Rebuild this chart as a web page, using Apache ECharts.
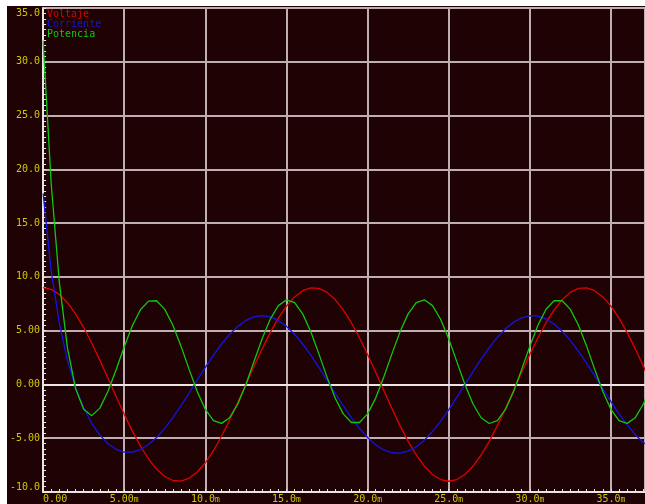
<!DOCTYPE html>
<html>
<head>
<meta charset="utf-8">
<script src="https://cdn.jsdelivr.net/npm/echarts/dist/echarts.min.js"></script>
<style>
  html, body { margin: 0; padding: 0; background: #ffffff; overflow: hidden; }
  #chart { position: absolute; left: 7px; top: 6px; width: 638px; height: 498px; background: #1e0204; }
</style>
</head>
<body>
<div id="chart"></div>
<script>
// tiempo en ms, paso 0.5 ms
const tiempo = [
  0, 0.5, 1, 1.5, 2, 2.5, 3, 3.5, 4, 4.5, 5, 5.5, 6, 6.5, 7, 7.5, 8, 8.5, 9, 9.5,
  10, 10.5, 11, 11.5, 12, 12.5, 13, 13.5, 14, 14.5, 15, 15.5, 16, 16.5, 17, 17.5, 18, 18.5, 19, 19.5,
  20, 20.5, 21, 21.5, 22, 22.5, 23, 23.5, 24, 24.5, 25, 25.5, 26, 26.5, 27, 27.5, 28, 28.5, 29, 29.5,
  30, 30.5, 31, 31.5, 32, 32.5, 33, 33.5, 34, 34.5, 35, 35.5, 36, 36.5, 37, 37.5
];
const voltaje = [
  9.00, 8.84, 8.37, 7.60, 6.56, 5.29, 3.83, 2.24, 0.57, -1.13,
  -2.78, -4.34, -5.74, -6.93, -7.89, -8.56, -8.93, -8.98, -8.72, -8.14,
  -7.28, -6.16, -4.82, -3.31, -1.69, 0.00, 1.69, 3.31, 4.82, 6.16,
  7.28, 8.14, 8.72, 8.98, 8.93, 8.56, 7.89, 6.93, 5.74, 4.34,
  2.78, 1.13, -0.57, -2.24, -3.83, -5.29, -6.56, -7.60, -8.37, -8.84,
  -9.00, -8.84, -8.37, -7.60, -6.56, -5.29, -3.83, -2.24, -0.57, 1.13,
  2.78, 4.34, 5.74, 6.93, 7.89, 8.56, 8.93, 8.98, 8.72, 8.14,
  7.28, 6.16, 4.82, 3.31, 1.69, 0.00
];
const corriente = [
  17.76, 10.54, 5.67, 2.24, -0.28, -2.17, -3.61, -4.71, -5.51, -6.03,
  -6.29, -6.29, -6.05, -5.59, -4.93, -4.08, -3.08, -1.98, -0.80, 0.40,
  1.59, 2.73, 3.76, 4.67, 5.40, 5.95, 6.29, 6.40, 6.29, 5.95,
  5.40, 4.67, 3.76, 2.73, 1.59, 0.40, -0.80, -1.98, -3.08, -4.08,
  -4.93, -5.61, -6.09, -6.35, -6.39, -6.20, -5.79, -5.18, -4.38, -3.43,
  -2.36, -1.20, 0.00, 1.20, 2.36, 3.43, 4.38, 5.18, 5.79, 6.20,
  6.39, 6.35, 6.09, 5.61, 4.93, 4.08, 3.08, 1.98, 0.80, -0.40,
  -1.59, -2.73, -3.76, -4.67, -5.40, -5.95
];
const potencia = [
  31.97, 18.63, 9.49, 3.40, -0.37, -2.30, -2.90, -2.20, -0.63, 1.36,
  3.50, 5.46, 6.95, 7.75, 7.78, 6.98, 5.50, 3.56, 1.40, -0.65,
  -2.32, -3.36, -3.62, -3.09, -1.82, 0.00, 2.13, 4.24, 6.06, 7.33,
  7.86, 7.60, 6.56, 4.90, 2.84, 0.68, -1.26, -2.74, -3.54, -3.54,
  -2.74, -1.27, 0.69, 2.84, 4.89, 6.56, 7.60, 7.87, 7.33, 6.06,
  4.25, 2.12, 0.00, -1.82, -3.10, -3.63, -3.36, -2.32, -0.66, 1.40,
  3.55, 5.51, 6.99, 7.78, 7.78, 6.98, 5.50, 3.56, 1.40, -0.65,
  -2.32, -3.36, -3.62, -3.09, -1.82, 0.00
];
const nombres = ['Voltaje', 'Corriente', 'Potencia'];
const colores = ['#e00000', '#1414e6', '#10c810'];

const pares = (vals) => tiempo.map((t, i) => [t, vals[i]]);

// 3 cifras significativas, como el simulador
const fmt = (v) => (Math.abs(v) >= 10 ? v.toFixed(1) : v.toFixed(2));

const mono = 'DejaVu Sans Mono';
const amarillo = '#d2c800';
const rejilla = '#c0aeb2';
const eje = '#ece4e4';

const chart = echarts.init(document.getElementById('chart'));
chart.setOption({
  animation: false,
  backgroundColor: '#1e0204',
  grid: { left: 34, right: 0, top: 2, bottom: 10, containLabel: false },
  legend: {
    orient: 'vertical',
    left: 35,
    top: 3,
    padding: 0,
    icon: 'none',
    itemWidth: 0,
    itemHeight: 10,
    itemGap: 0,
    selectedMode: false,
    textStyle: { fontFamily: mono, fontSize: 10 },
    data: nombres.map((n, i) => ({ name: n, textStyle: { color: colores[i] } })),
  },
  xAxis: [
    {
      type: 'value',
      min: 0,
      max: 37.1,
      interval: 5,
      axisLine: { show: true, onZero: false, lineStyle: { color: eje, width: 2 } },
      axisTick: { show: true, inside: true, length: 3, lineStyle: { color: eje } },
      minorTick: { show: true, splitNumber: 10, length: 3, lineStyle: { color: eje } },
      splitLine: { show: true, lineStyle: { color: rejilla, width: 2 } },
      axisLabel: {
        margin: 2,
        alignMinLabel: 'left',
        showMaxLabel: false,
        formatter: (v) => (v === 0 ? '{a|0.00}' : '{a|' + fmt(v) + '}{m|m}'),
        rich: {
          a: { fontFamily: mono, fontSize: 10, color: amarillo },
          m: { fontFamily: mono, fontSize: 8, color: amarillo, verticalAlign: 'bottom' },
        },
      },
    },
    {
      type: 'value',
      position: 'top',
      min: 0,
      max: 37.1,
      axisLine: { show: true, lineStyle: { color: eje, width: 2 } },
      axisTick: { show: false },
      axisLabel: { show: false },
      splitLine: { show: false },
    },
  ],
  yAxis: {
    type: 'value',
    min: -10,
    max: 35,
    interval: 5,
    axisLine: { show: true, onZero: false, lineStyle: { color: eje, width: 2 } },
    axisTick: { show: true, inside: true, length: 3, lineStyle: { color: eje } },
    minorTick: { show: true, splitNumber: 10, length: 3, lineStyle: { color: eje } },
    splitLine: { show: true, lineStyle: { color: rejilla, width: 2 } },
    axisLabel: {
      margin: 3,
      fontFamily: mono,
      fontSize: 10,
      color: amarillo,
      verticalAlignMaxLabel: 'top',
      verticalAlignMinLabel: 'bottom',
      formatter: (v) => fmt(v),
    },
  },
  series: [voltaje, corriente, potencia].map((vals, i) => ({
    name: nombres[i],
    type: 'line',
    data: pares(vals),
    showSymbol: false,
    clip: true,
    color: colores[i],
    lineStyle: { color: colores[i], width: 1.3 },
  })),
});
</script>
</body>
</html>
